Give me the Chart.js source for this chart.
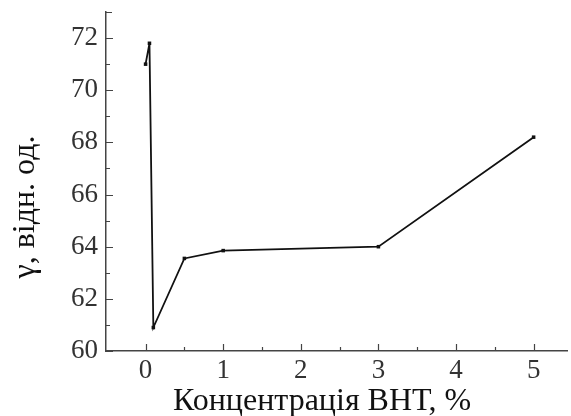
<!DOCTYPE html>
<html>
<head>
<meta charset="utf-8">
<script src="https://cdn.jsdelivr.net/npm/chart.js@4"></script>
<style>
  html, body { margin: 0; padding: 0; background: #fff; }
  #myChart { display: block; }
</style>
</head>
<body>
<canvas id="myChart" width="571" height="416"></canvas>
<script>
// surface tension vs BHT concentration
const xValues = [0, 0.05, 0.1, 0.5, 1, 3, 5];
const yValues = [71.0, 71.8, 60.9, 63.55, 63.85, 64.0, 68.2];

const xTicks = [0, 1, 2, 3, 4, 5];
const xMinor = [0.5, 1.5, 2.5, 3.5, 4.5];
const yTicks = [60, 62, 64, 66, 68, 70, 72];
const yMinor = [61, 63, 65, 67, 69, 71];

const xTitle = "Концентрація ВНТ, %";
const yTitle = "γ, відн. од.";

const points = xValues.map((x, i) => ({ x: x, y: yValues[i] }));

// inward ticks and the two axis titles
const axisDecor = {
  id: 'axisDecor',
  afterDraw(chart) {
    const ctx = chart.ctx;
    const xs = chart.scales.x, ys = chart.scales.y;
    const area = chart.chartArea;
    ctx.save();
    ctx.strokeStyle = '#444';
    ctx.lineWidth = 1.2;
    ctx.beginPath();
    xTicks.forEach(v => {
      const px = Math.round(xs.getPixelForValue(v)) + 0.5;
      ctx.moveTo(px, area.bottom); ctx.lineTo(px, area.bottom - 7);
    });
    xMinor.forEach(v => {
      const px = Math.round(xs.getPixelForValue(v)) + 0.5;
      ctx.moveTo(px, area.bottom); ctx.lineTo(px, area.bottom - 4);
    });
    yTicks.forEach(v => {
      const py = Math.round(ys.getPixelForValue(v)) + 0.5;
      ctx.moveTo(area.left, py); ctx.lineTo(area.left + 7, py);
    });
    yMinor.forEach(v => {
      const py = Math.round(ys.getPixelForValue(v)) + 0.5;
      ctx.moveTo(area.left, py); ctx.lineTo(area.left + 4, py);
    });
    // small cap at the top of the y axis
    ctx.moveTo(area.left, area.top + 0.5); ctx.lineTo(area.left + 6, area.top + 0.5);
    ctx.stroke();

    ctx.fillStyle = '#111';
    ctx.textAlign = 'center';
    ctx.textBaseline = 'alphabetic';
    ctx.font = '32px "Liberation Serif"';
    ctx.fillText(xTitle, 322, 410);

    ctx.font = '32px "Liberation Serif"';
    ctx.translate(34, 207);
    ctx.rotate(-Math.PI / 2);
    ctx.fillText(yTitle, 0, 0);
    ctx.restore();
  }
};

new Chart("myChart", {
  type: "line",
  data: {
    datasets: [{
      data: points,
      borderColor: '#111',
      borderWidth: 1.8,
      backgroundColor: '#111',
      pointStyle: 'rect',
      pointRadius: 2.5,
      pointBorderWidth: 0,
      tension: 0
    }]
  },
  options: {
    responsive: false,
    animation: false,
    layout: { padding: 0 },
    plugins: { legend: { display: false }, tooltip: { enabled: false } },
    scales: {
      x: {
        type: 'linear',
        min: -0.51,
        max: 5.43,
        afterBuildTicks: s => { s.ticks = xTicks.map(v => ({ value: v })); },
        afterFit: s => { s.height = 65; },
        grid: { display: false, drawTicks: false },
        border: { display: true, color: '#444', width: 1.5 },
        ticks: {
          color: '#333',
          padding: 4,
          font: { family: 'Liberation Serif', size: 27 }
        }
      },
      y: {
        min: 60,
        max: 73,
        afterBuildTicks: s => { s.ticks = yTicks.map(v => ({ value: v })); },
        afterFit: s => { s.width = 106; s.paddingTop = 12; s.paddingBottom = 0; },
        grid: { display: false, drawTicks: false },
        border: { display: true, color: '#444', width: 1.5 },
        ticks: {
          color: '#333',
          padding: 8,
          font: { family: 'Liberation Serif', size: 27 }
        }
      }
    }
  },
  plugins: [axisDecor]
});
</script>
</body>
</html>
